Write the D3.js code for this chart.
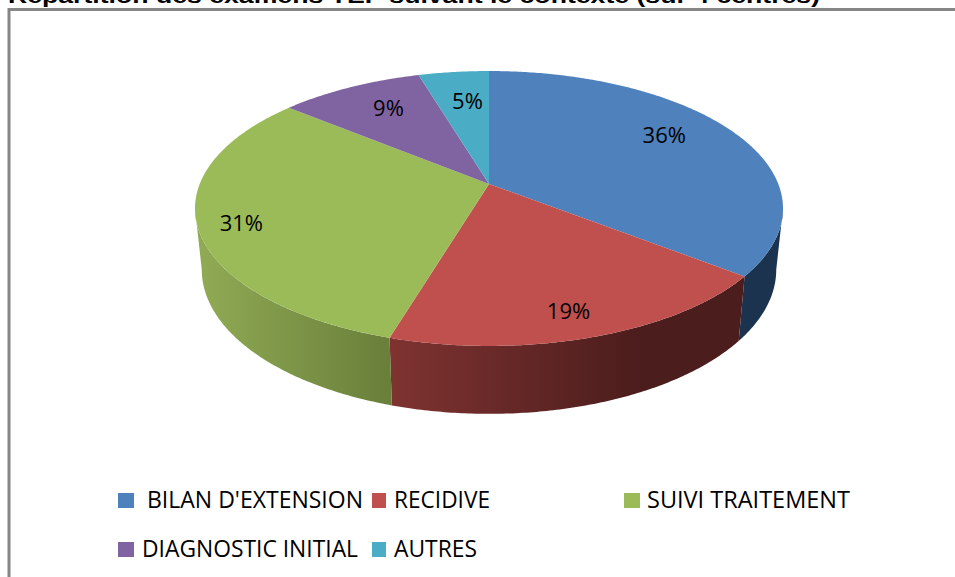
<!DOCTYPE html>
<html>
<head>
<meta charset="utf-8">
<script src="https://cdn.jsdelivr.net/npm/d3@7"></script>
<style>
    html, body { margin: 0; padding: 0; background: #fff; overflow: hidden; }
    svg { display: block; }
    text { font-family: "Open Sans", sans-serif; fill: #000; }
</style>
</head>
<body>
<script>
// Data
const categories = ["BILAN D'EXTENSION", "RECIDIVE", "SUIVI TRAITEMENT", "DIAGNOSTIC INITIAL", "AUTRES"];
const shares = [35.6, 19.0, 31.4, 9.4, 4.6];
const colours = ["#4f81bd", "#c0504d", "#9bbb59", "#8064a2", "#4bacc6"];
const titleText = "Répartition des examens TEP suivant le contexte (sur 4 centres)";

// Label placement, relative to each slice
const labelRadius = [0.76, 0.85, 0.86, 0.74, 0.71];
const labelNudge = [-5.5, 1.6, -2, 2, 1.5];

// Legend layout
const legendItems = [
    { swatch: [118, 16], text: [147, 216], baseline: 508 },
    { swatch: [372, 14], text: [394, 96], baseline: 508 },
    { swatch: [624, 16], text: [647, 203], baseline: 508 },
    { swatch: [118, 16], text: [142, 216], baseline: 557 },
    { swatch: [372, 14], text: [394, 83], baseline: 557 }
];

const width = 955;
const height = 577;

// Perspective of the disc: apex position, half axes and tilt
const cx = 489, cy = 184;
const axisX = 289.3, axisY = 133.1, tilt = 0.178;

// Bottom rim is the top rim stretched and moved down
const rimX = 0.977, rimY = 1.049, rimShift = 51;

// Angles where the disc is widest: the side wall is only seen between them
const wallStart = Math.acos(-tilt);
const wallEnd = 2 * Math.PI - wallStart;

function project(angle, r = 1) {
    const u = r * Math.sin(angle);
    const v = r * Math.cos(angle);
    const d = 1 + tilt * v;
    return [cx + axisX * u / d, cy - axisY * v / d];
}

function projectLow(angle) {
    const p = project(angle);
    return [cx + rimX * (p[0] - cx), rimY * p[1] + rimShift];
}

function sampleAngles(a0, a1) {
    const n = Math.max(2, Math.ceil((a1 - a0) / 0.01));
    return d3.range(n + 1).map((i) => a0 + (a1 - a0) * i / n);
}

const svg = d3.select("body")
    .append("svg")
    .attr("width", width)
    .attr("height", height);

// Side shading
const defs = svg.append("defs");
function sideGradient(id, x1, x2, from, to) {
    const g = defs.append("linearGradient")
        .attr("id", id)
        .attr("gradientUnits", "userSpaceOnUse")
        .attr("x1", x1).attr("x2", x2)
        .attr("y1", 0).attr("y2", 0);
    g.append("stop").attr("offset", 0).attr("stop-color", from);
    g.append("stop").attr("offset", 1).attr("stop-color", to);
}
sideGradient("side-red", 389, 640, "#7f3331", "#4b1d1c");
sideGradient("side-green", 200, 389, "#90aa54", "#697f3a");
const sideFill = ["#1c334f", "url(#side-red)", "url(#side-green)", "#4d3c61", "#2d6776"];

// Frame
svg.append("path")
    .attr("d", d3.line()([[9, height], [9, 9.5], [width, 9.5]]))
    .attr("fill", "none")
    .attr("stroke", "#868686")
    .attr("stroke-width", 3);

// Title, cut by the top of the page
svg.append("text")
    .attr("x", 8)
    .attr("y", 3)
    .attr("textLength", 812)
    .attr("lengthAdjust", "spacingAndGlyphs")
    .style("font-family", "'Liberation Sans', Arial, sans-serif")
    .style("font-weight", "bold")
    .style("font-size", "21px")
    .text(titleText);

const pie = d3.pie().sort(null)(shares);
const line = d3.line();

// Side wall first, top face over it
svg.append("g")
    .selectAll("path")
    .data(pie.filter((d) => d.startAngle < wallEnd && d.endAngle > wallStart))
    .join("path")
    .attr("d", (d) => {
        const angles = sampleAngles(Math.max(d.startAngle, wallStart), Math.min(d.endAngle, wallEnd));
        return line(angles.map((a) => project(a)).concat(angles.reverse().map(projectLow))) + "Z";
    })
    .attr("fill", (d) => sideFill[d.index]);

svg.append("g")
    .selectAll("path")
    .data(pie)
    .join("path")
    .attr("d", (d) => line([[cx, cy]].concat(sampleAngles(d.startAngle, d.endAngle).map((a) => project(a)))) + "Z")
    .attr("fill", (d) => colours[d.index]);

// Percent labels
svg.append("g")
    .selectAll("text")
    .data(pie)
    .join("text")
    .attr("transform", (d) => {
        const mid = (d.startAngle + d.endAngle) / 2 + labelNudge[d.index] * Math.PI / 180;
        return `translate(${project(mid, labelRadius[d.index])})`;
    })
    .attr("text-anchor", "middle")
    .attr("dy", "0.36em")
    .style("font-size", "22px")
    .text((d) => `${Math.round(d.data)}%`);

// Legend
const legend = svg.append("g")
    .selectAll("g")
    .data(categories)
    .join("g");

legend.append("rect")
    .attr("x", (d, i) => legendItems[i].swatch[0])
    .attr("y", (d, i) => legendItems[i].baseline - 15)
    .attr("width", (d, i) => legendItems[i].swatch[1])
    .attr("height", 15)
    .attr("fill", (d, i) => colours[i]);

legend.append("text")
    .attr("x", (d, i) => legendItems[i].text[0])
    .attr("y", (d, i) => legendItems[i].baseline)
    .attr("textLength", (d, i) => legendItems[i].text[1])
    .attr("lengthAdjust", "spacingAndGlyphs")
    .style("font-size", "23px")
    .text((d) => d);
</script>
</body>
</html>
